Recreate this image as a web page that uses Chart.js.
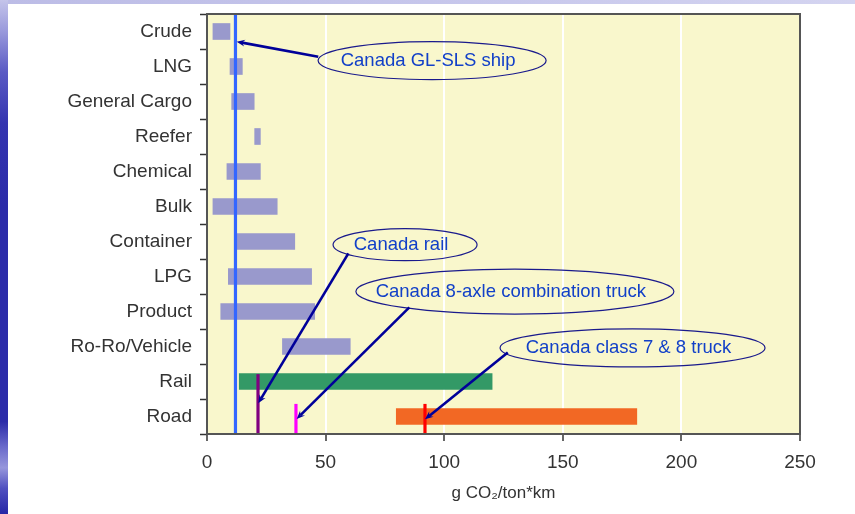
<!doctype html>
<html lang="en">
<head>
    <meta charset="utf-8">
    <title>g CO2/ton*km by transport mode</title>
    <style>
        html, body { margin: 0; padding: 0; background: #fff; }
        .slide { position: relative; width: 855px; height: 514px; overflow: hidden; background: #fff; }
        .strip-top { position: absolute; left: 0; top: 0; width: 855px; height: 4px;
            background: linear-gradient(to right, #bcbce6, #c8c8ec 60%, #d4d4f0); }
        .strip-left { position: absolute; left: 0; top: 0; width: 8px; height: 514px;
            background: linear-gradient(to bottom, #c4c4ea 0%, #9a9adc 6%, #5a5ac4 14%, #3434b0 24%, #2b2ba9 40%,
                #2b2ba9 82%, #6a6acb 87%, #9696dc 91%, #5050c0 95%, #2626a6 100%); }
        #wrap { position: absolute; left: 0; top: 0; width: 855px; height: 514px; }
    </style>
</head>

<body>
    <div class="slide">
        <div class="strip-top"></div>
        <div class="strip-left"></div>
        <div id="wrap"><canvas id="myChart"></canvas></div>
    </div>

    <script src="https://cdn.jsdelivr.net/npm/chart.js@4.4.1/dist/chart.umd.min.js"></script>
    <script>
        // categories (top to bottom) and ranges of g CO2 per ton*km
        var categories = ['Crude', 'LNG', 'General Cargo', 'Reefer', 'Chemical', 'Bulk',
            'Container', 'LPG', 'Product', 'Ro-Ro/Vehicle', 'Rail', 'Road'];
        var lowValues = [2.5, 9.7, 10.4, 20.1, 8.4, 2.5, 12.3, 9.0, 5.8, 31.8, 13.6, 79.8];
        var highValues = [9.7, 14.9, 19.9, 22.5, 22.5, 29.6, 37.0, 44.1, 45.4, 60.4, 120.2, 181.2];
        var barColors = ['#9999cc', '#9999cc', '#9999cc', '#9999cc', '#9999cc', '#9999cc',
            '#9999cc', '#9999cc', '#9999cc', '#9999cc', '#339966', '#f26824'];
        var xTicks = [0, 50, 100, 150, 200, 250];

        // Canadian reference values (vertical marks)
        var markerValues = [12.0, 21.5, 37.5, 91.9];
        // category index where each mark starts (it runs down to the axis)
        var markerFrom = [-0.5, 9.79, 10.64, 10.64];
        var markerColors = ['#3366ff', '#800080', '#ff00ff', '#ff0000'];

        // callouts: label, ellipse centre and arrow, in data units (x value, category index)
        var calloutLabels = ['Canada GL-SLS ship', 'Canada rail', 'Canada 8-axle combination truck', 'Canada class 7 & 8 truck'];
        var calloutX = [94.9, 83.5, 129.8, 179.4];
        var calloutY = [0.83, 6.09, 7.43, 9.04];
        var arrowFromX = [46.9, 59.6, 85.3, 126.8];
        var arrowFromY = [0.72, 6.34, 7.88, 9.17];
        var arrowToX = [12.5, 21.6, 37.8, 91.9];
        var arrowToY = [0.29, 10.62, 11.07, 11.08];

        var ellipseSize = [[114, 19], [72, 16], [159, 22.5], [132.5, 19]];

        function drawArrow(ctx, x1, y1, x2, y2) {
            var ang = Math.atan2(y2 - y1, x2 - x1);
            var head = 9;
            ctx.beginPath();
            ctx.moveTo(x1, y1);
            ctx.lineTo(x2 - Math.cos(ang) * head * 0.6, y2 - Math.sin(ang) * head * 0.6);
            ctx.stroke();
            ctx.beginPath();
            ctx.moveTo(x2, y2);
            ctx.lineTo(x2 - head * Math.cos(ang - 0.4), y2 - head * Math.sin(ang - 0.4));
            ctx.lineTo(x2 - head * 0.6 * Math.cos(ang), y2 - head * 0.6 * Math.sin(ang));
            ctx.lineTo(x2 - head * Math.cos(ang + 0.4), y2 - head * Math.sin(ang + 0.4));
            ctx.closePath();
            ctx.fill();
        }

        var overlay = {
            id: 'overlay',
            beforeDraw: function (chart) {
                var a = chart.chartArea, ctx = chart.ctx;
                ctx.save();
                ctx.fillStyle = '#f9f7cc';
                ctx.fillRect(a.left, a.top, a.right - a.left, a.bottom - a.top);
                ctx.restore();
            },
            afterDatasetsDraw: function (chart) {
                var ctx = chart.ctx, xs = chart.scales.x, ys = chart.scales.y;
                ctx.save();
                // reference marks
                markerValues.forEach(function (v, i) {
                    var px = xs.getPixelForValue(v);
                    ctx.strokeStyle = markerColors[i];
                    ctx.lineWidth = 3.2;
                    ctx.beginPath();
                    ctx.moveTo(px, ys.getPixelForValue(markerFrom[i]));
                    ctx.lineTo(px, ys.getPixelForValue(11.5));
                    ctx.stroke();
                });
                // callouts
                ctx.font = '18.5px "Liberation Sans", Arial, sans-serif';
                ctx.textAlign = 'center';
                ctx.textBaseline = 'middle';
                calloutLabels.forEach(function (label, i) {
                    var cx = xs.getPixelForValue(calloutX[i]);
                    var cy = ys.getPixelForValue(calloutY[i]);
                    ctx.strokeStyle = '#1a1a8c';
                    ctx.lineWidth = 1.2;
                    ctx.beginPath();
                    ctx.ellipse(cx, cy, ellipseSize[i][0], ellipseSize[i][1], 0, 0, Math.PI * 2);
                    ctx.stroke();
                    ctx.fillStyle = '#1240c8';
                    ctx.fillText(label, cx - 4, cy);

                    ctx.strokeStyle = '#000099';
                    ctx.fillStyle = '#000099';
                    ctx.lineWidth = 2.6;
                    drawArrow(ctx,
                        xs.getPixelForValue(arrowFromX[i]), ys.getPixelForValue(arrowFromY[i]),
                        xs.getPixelForValue(arrowToX[i]), ys.getPixelForValue(arrowToY[i]));
                });
                ctx.restore();
            },
            afterDraw: function (chart) {
                var a = chart.chartArea, ctx = chart.ctx;
                ctx.save();
                ctx.strokeStyle = '#555';
                ctx.lineWidth = 2;
                ctx.strokeRect(a.left, a.top, a.right - a.left, a.bottom - a.top);
                ctx.restore();
            }
        };

        var ctx = document.getElementById('myChart').getContext('2d');
        var chart = new Chart(ctx, {
            type: 'bar',
            data: {
                labels: categories,
                datasets: [{
                    data: categories.map(function (c, i) { return [lowValues[i], highValues[i]]; }),
                    backgroundColor: barColors,
                    borderWidth: 0,
                    barThickness: 16
                }]
            },
            options: {
                indexAxis: 'y',
                responsive: true,
                maintainAspectRatio: false,
                animation: false,
                layout: { padding: { left: 0, right: 55, top: 14, bottom: 0 } },
                plugins: { legend: { display: false }, tooltip: { enabled: false } },
                scales: {
                    x: {
                        min: 0,
                        max: 250,
                        afterBuildTicks: function (scale) {
                            scale.ticks = xTicks.map(function (v) { return { value: v }; });
                        },
                        afterFit: function (scale) { scale.height = 80; },
                        border: { display: false },
                        grid: {
                            color: function (c) {
                                return (c.tick && (c.tick.value === 0 || c.tick.value === 250)) ? 'rgba(0,0,0,0)' : '#ffffff';
                            },
                            lineWidth: 2,
                            tickColor: '#333',
                            tickWidth: 1.5,
                            tickLength: 7
                        },
                        ticks: {
                            color: '#333',
                            padding: 10,
                            maxRotation: 0,
                            font: { family: '"Liberation Sans", Arial, sans-serif', size: 19 }
                        },
                        title: {
                            display: true,
                            text: 'g CO\u2082/ton*km',
                            color: '#333',
                            padding: { top: 4, bottom: 10 },
                            font: { family: '"Liberation Sans", Arial, sans-serif', size: 17 }
                        }
                    },
                    y: {
                        afterFit: function (scale) {
                            scale.width = 207;
                            scale.paddingTop = 0;
                            scale.paddingBottom = 0;
                        },
                        border: { display: false },
                        grid: {
                            offset: true,
                            drawOnChartArea: false,
                            tickColor: '#333',
                            tickWidth: 1.5,
                            tickLength: 7
                        },
                        ticks: {
                            color: '#333',
                            padding: 8,
                            autoSkip: false,
                            font: { family: '"Liberation Sans", Arial, sans-serif', size: 19 }
                        }
                    }
                }
            },
            plugins: [overlay]
        });
    </script>
</body>

</html>
